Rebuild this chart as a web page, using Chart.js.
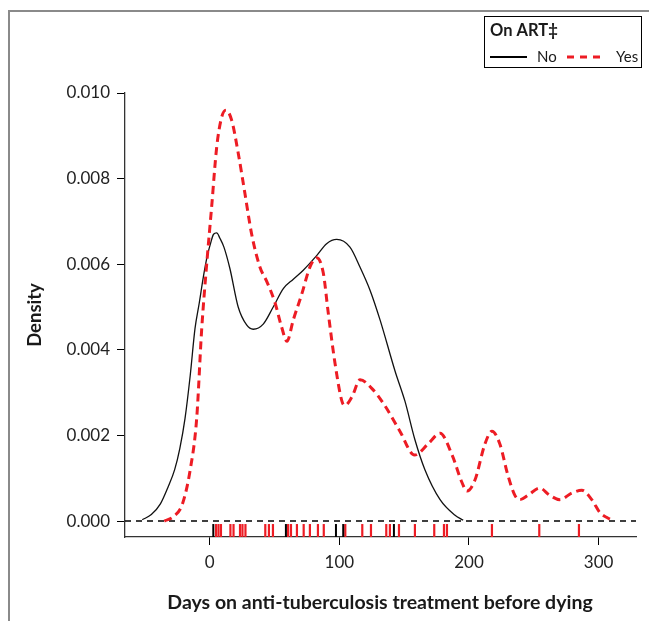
<!DOCTYPE html>
<html>
<head>
<meta charset="utf-8">
<script src="https://cdn.jsdelivr.net/npm/chart.js@4/dist/chart.umd.min.js"></script>
<style>
  body { margin: 0; background: #fff; }
  canvas { display: block; }
</style>
</head>
<body>
<canvas id="densityChart" width="649" height="621"></canvas>
<script>
// density curves (days, density)
const noDays = [-52, -45, -38, -32, -27, -23, -19, -15, -11.3, -8, -4.9, -1.8, 0.8, 3, 5.4, 8, 11, 15.6, 22, 28.5, 33.6, 41.3, 49, 56.8, 64.5, 72.2, 82.5, 90.2, 98, 108.2, 116, 123.6, 131.4, 143, 150.6, 158.3, 166, 177.7, 189, 195.5];
const noDensity = [0.00003, 0.00015, 0.0004, 0.0008, 0.0012, 0.0017, 0.0024, 0.0034, 0.0045, 0.0051, 0.0057, 0.0062, 0.0065, 0.0067, 0.00673, 0.0066, 0.0064, 0.0059, 0.005, 0.00458, 0.00448, 0.0046, 0.005, 0.00543, 0.00565, 0.00586, 0.0062, 0.00648, 0.00658, 0.0064, 0.00593, 0.0054, 0.0047, 0.0035, 0.0028, 0.0019, 0.0012, 0.0005, 0.00014, 0.00002];

const yesDays = [-35, -28, -21, -15, -10, -6.2, -2.3, 1.5, 5.4, 9.3, 12.6, 17, 22, 27.2, 32.4, 38.8, 44, 50.4, 55.5, 59.6, 64.5, 71, 77.3, 82.5, 87.6, 91.5, 96.6, 102, 104.3, 109.7, 116, 125, 135, 146.7, 158, 168.4, 177.7, 187, 194.6, 198.4, 204.6, 212.3, 217.7, 223.8, 230, 235.4, 239.3, 245.4, 254.6, 262.3, 270, 279.2, 287, 294.7, 300.9, 307, 311.6];
const yesDensity = [0, 0.0001, 0.0004, 0.0012, 0.0024, 0.00446, 0.006, 0.00733, 0.00873, 0.00944, 0.0096, 0.00936, 0.0086, 0.00765, 0.0067, 0.00593, 0.0056, 0.0051, 0.00453, 0.0042, 0.0047, 0.0053, 0.00593, 0.00615, 0.0058, 0.00485, 0.0037, 0.0028, 0.0027, 0.0029, 0.0033, 0.0031, 0.0027, 0.0021, 0.00154, 0.0018, 0.00205, 0.00154, 0.0009, 0.0007, 0.00096, 0.0018, 0.0021, 0.0018, 0.00107, 0.0006, 0.0005, 0.0006, 0.00077, 0.0006, 0.0005, 0.00065, 0.00072, 0.0005, 0.0002, 0.00007, 0];

// rug: individual observations
const rugNo = [2.8, 58.8, 97.4, 103, 142.1];
const rugYes = [4.9, 6.8, 8.7, 16, 18.4, 23.4, 25.3, 27.6, 42.9, 45.7, 48.8, 60.5, 62.7, 67.3, 72.5, 77.3, 83.5, 88, 104.6, 117.7, 124.4, 136.2, 139, 146, 158.3, 173.2, 180.7, 183, 217.7, 254.2, 284.8];

const xTicks = [0, 100, 200, 300];
const yTicks = [0, 0.002, 0.004, 0.006, 0.008, 0.010];

const xTitle = "Days on anti-tuberculosis treatment before dying";
const yTitle = "Density";
const legendTitle = "On ART‡";
const legendLabels = ["No", "Yes"];

const RED = "#ed1c24";
const X_MIN = -65.3, X_MAX = 328.8;
const Y_MIN = -0.000373, Y_MAX = 0.010;
const RUG_Y = -0.000222;

const toPoints = (xs, ys) => xs.map((x, i) => ({ x: x, y: ys[i] }));

const decorPlugin = {
    id: "decor",
    beforeDraw(chart) {
        const c = chart.ctx;
        c.save();
        c.fillStyle = "#fff";
        c.fillRect(0, 0, chart.width, chart.height);
        c.restore();
    },
    afterDraw(chart) {
        const c = chart.ctx;
        c.save();

        // outer frame
        c.strokeStyle = "#8a8a8a";
        c.lineWidth = 2;
        c.beginPath();
        c.moveTo(9, chart.height);
        c.lineTo(9, 11);
        c.lineTo(chart.width, 11);
        c.stroke();

        // axis titles
        c.fillStyle = "#1a1a1a";
        c.textAlign = "center";
        c.textBaseline = "middle";
        c.font = "bold 19.5px Lato";
        c.fillText(xTitle, 380, 603);
        c.save();
        c.translate(35, 315);
        c.rotate(-Math.PI / 2);
        c.font = "bold 18.5px Lato";
        c.fillText(yTitle, 0, 0);
        c.restore();

        // legend
        c.fillStyle = "#fff";
        c.fillRect(484, 16, 158, 52);
        c.strokeStyle = "#000";
        c.lineWidth = 1;
        c.strokeRect(484.5, 16.5, 157, 51);
        c.fillStyle = "#1a1a1a";
        c.textAlign = "left";
        c.font = "bold 16.5px Lato";
        c.fillText(legendTitle, 490, 31);
        c.font = "15px Lato";
        c.fillText(legendLabels[0], 537, 57);
        c.fillText(legendLabels[1], 616, 57);
        c.lineWidth = 2;
        c.strokeStyle = "#000";
        c.beginPath();
        c.moveTo(490, 57);
        c.lineTo(527, 57);
        c.stroke();
        c.strokeStyle = RED;
        c.lineWidth = 3;
        c.setLineDash([7, 6]);
        c.beginPath();
        c.moveTo(567, 57);
        c.lineTo(605, 57);
        c.stroke();
        c.restore();
    }
};

const ctx = document.getElementById("densityChart").getContext("2d");

new Chart(ctx, {
    type: "line",
    data: {
        datasets: [
            {
                label: "Yes",
                data: toPoints(yesDays, yesDensity),
                borderColor: RED,
                borderWidth: 3,
                borderDash: [8, 5],
                pointRadius: 0,
                cubicInterpolationMode: "monotone",
                order: 0
            },
            {
                label: "No",
                data: toPoints(noDays, noDensity),
                borderColor: "#111",
                borderWidth: 1.3,
                pointRadius: 0,
                cubicInterpolationMode: "monotone",
                order: 1
            },
            {
                label: "rug No",
                type: "scatter",
                data: rugNo.map(v => ({ x: v, y: RUG_Y })),
                pointStyle: "line",
                rotation: 90,
                pointRadius: 6.5,
                borderWidth: 2,
                borderColor: "#000",
                showLine: false,
                order: 2
            },
            {
                label: "rug Yes",
                type: "scatter",
                data: rugYes.map(v => ({ x: v, y: RUG_Y })),
                pointStyle: "line",
                rotation: 90,
                pointRadius: 6.5,
                borderWidth: 2.2,
                borderColor: RED,
                showLine: false,
                order: 3
            },
            {
                label: "zero",
                data: [{ x: X_MIN, y: 0 }, { x: X_MAX, y: 0 }],
                borderColor: "#000",
                borderWidth: 1.4,
                borderDash: [6, 5],
                pointRadius: 0,
                order: 4
            }
        ]
    },
    options: {
        responsive: false,
        animation: false,
        devicePixelRatio: 1,
        layout: { padding: { top: 93, right: 13, left: 0, bottom: 0 } },
        plugins: {
            legend: { display: false },
            tooltip: { enabled: false }
        },
        scales: {
            x: {
                type: "linear",
                min: X_MIN,
                max: X_MAX,
                afterFit: s => { s.height = 84; },
                afterBuildTicks: s => { s.ticks = xTicks.map(v => ({ value: v })); },
                grid: { drawOnChartArea: false, drawTicks: true, tickLength: 8, color: "#000", tickWidth: 1 },
                border: { color: "#333", width: 1.3 },
                ticks: { color: "#222", font: { family: "Lato", size: 17 }, padding: 7, maxRotation: 0 }
            },
            y: {
                type: "linear",
                min: Y_MIN,
                max: Y_MAX,
                afterFit: s => { s.width = 125; },
                afterBuildTicks: s => { s.ticks = yTicks.map(v => ({ value: v })); },
                grid: { drawOnChartArea: false, drawTicks: true, tickLength: 8, color: "#000", tickWidth: 1 },
                border: { color: "#333", width: 1.3 },
                ticks: {
                    color: "#222",
                    font: { family: "Lato", size: 17 },
                    padding: 7,
                    callback: v => v.toFixed(3)
                }
            }
        }
    },
    plugins: [decorPlugin]
});
</script>
</body>
</html>
